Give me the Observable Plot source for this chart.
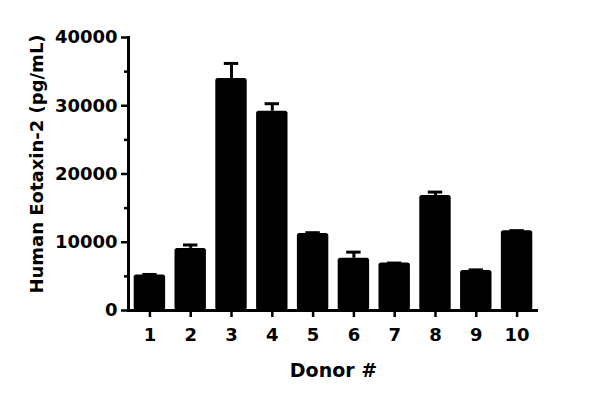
<!DOCTYPE html>
<html>
<head>
<meta charset="utf-8">
<script src="https://cdn.jsdelivr.net/npm/d3@7"></script>
<script src="https://cdn.jsdelivr.net/npm/@observablehq/plot@0.6"></script>
<style>
  html, body { margin: 0; padding: 0; background: #fff; }
  #chart svg { display: block; }
</style>
</head>
<body>
<div id="chart"></div>
<script>
const donors = ["1", "2", "3", "4", "5", "6", "7", "8", "9", "10"];
const means = [5200, 9100, 34000, 29200, 11300, 7650, 6950, 16850, 5850, 11700];
const errors = [80, 500, 2200, 1100, 100, 900, 0, 500, 100, 0];
const majorTicks = [0, 10000, 20000, 30000, 40000];
const minorTicks = [5000, 15000, 25000, 35000];
const yLabel = "Human Eotaxin-2 (pg/mL)";
const xLabel = "Donor #";

const data = donors.map((d, i) => ({donor: d, mean: means[i], upper: means[i] + errors[i]}));
const font = "'DejaVu Sans', sans-serif";

const chart = Plot.plot({
  width: 600,
  height: 403,
  marginLeft: 128,
  marginRight: 62,
  marginTop: 37,
  marginBottom: 93,
  style: {fontFamily: font, fontWeight: "bold", fontSize: "17px", color: "#000", background: "#fff"},
  x: {domain: donors, paddingInner: 0.23, paddingOuter: 0.14, round: false, axis: null},
  y: {domain: [0, 40000], axis: null},
  marks: [
    Plot.ruleX(data, {x: "donor", y1: "mean", y2: "upper", stroke: "#000", strokeWidth: 3}),
    Plot.tickY(data, {x: "donor", y: "upper", stroke: "#000", strokeWidth: 3, insetLeft: 8.5, insetRight: 8.5}),
    Plot.barY(data, {x: "donor", y: "mean", fill: "#000", rx: 2.5}),
    Plot.frame({anchor: "left", stroke: "#000", strokeWidth: 3}),
    Plot.ruleY([0], {stroke: "#000", strokeWidth: 3}),
    Plot.axisY({ticks: majorTicks, tickSize: 7, tickPadding: 4, strokeWidth: 2.5, label: null, tickFormat: d => String(d), fontSize: 18}),
    Plot.axisY({ticks: minorTicks, tickSize: 4, strokeWidth: 2.5, label: null, text: null}),
    Plot.axisX({tickSize: 7, tickPadding: 11, strokeWidth: 2.5, label: null, fontSize: 18}),
    Plot.text([yLabel], {frameAnchor: "left", textAnchor: "middle", dx: -91, dy: -10, rotate: -90, fontSize: 18, fontWeight: "bold", fill: "#000"}),
    Plot.text([xLabel], {frameAnchor: "bottom", dy: 66, fontSize: 19, fontWeight: "bold", fill: "#000"})
  ]
});
document.getElementById("chart").appendChild(chart);
</script>
</body>
</html>
